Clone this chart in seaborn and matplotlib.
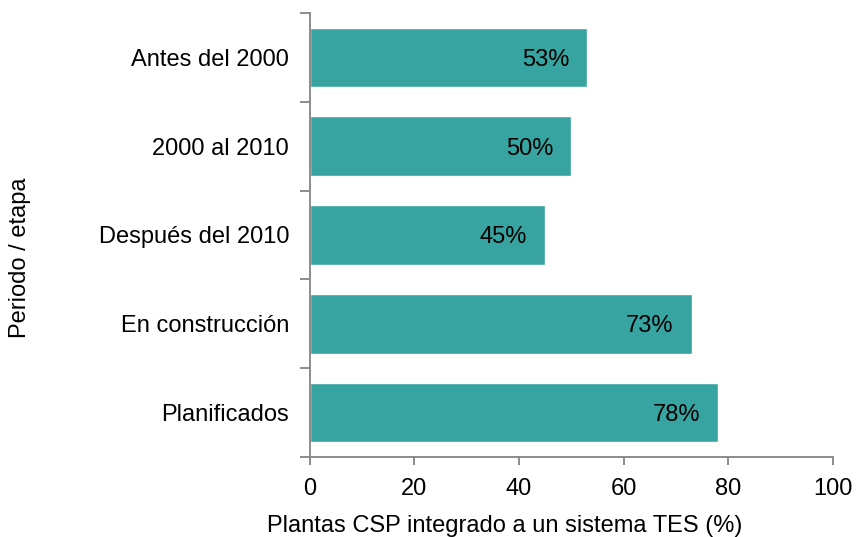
import matplotlib
matplotlib.use('Agg')
import matplotlib.pyplot as plt
import seaborn as sns
from matplotlib.ticker import FixedLocator

# data
periods = ['Antes del 2000', '2000 al 2010', 'Después del 2010',
           'En construcción', 'Planificados']
share = [53, 50, 45, 73, 78]

sns.set_style('white')
plt.rcParams['font.family'] = ['Liberation Sans', 'DejaVu Sans']
plt.rcParams['text.color'] = 'black'
plt.rcParams['axes.labelcolor'] = 'black'
plt.rcParams['xtick.color'] = 'black'
plt.rcParams['ytick.color'] = 'black'

fig = plt.figure(figsize=(8.56, 5.37), dpi=100)
ax = fig.add_axes([0.362, 0.149, 0.611, 0.827])

sns.barplot(x=share, y=periods, orient='h', color='#37A4A2',
            saturation=1, width=0.67, ax=ax)

labels = ax.bar_label(ax.containers[0], labels=[f'{v}%' for v in share],
                      padding=-13, fontsize=17, color='black')
for t in labels:
    t.set_ha('right')
    t.set_va('center_baseline')

ax.set_xlim(0, 100)
ax.set_ylim(len(periods) - 0.5, -0.5)
ax.set_xticks([0, 20, 40, 60, 80, 100])
ax.yaxis.set_minor_locator(FixedLocator([i - 0.5 for i in range(len(periods) + 1)]))

grey = '#8c8c8c'
for side in ['top', 'right']:
    ax.spines[side].set_visible(False)
for side in ['left', 'bottom']:
    ax.spines[side].set_color(grey)
    ax.spines[side].set_linewidth(1.4)

ax.tick_params(axis='x', which='major', direction='out', length=6, width=1.4,
               color=grey, labelcolor='black', labelsize=17, pad=9, bottom=True)
ax.tick_params(axis='y', which='major', length=0, labelsize=17, pad=15,
               labelcolor='black')
ax.tick_params(axis='y', which='minor', direction='out', length=7, width=1.4,
               color=grey, left=True)

ax.set_xlabel('Plantas CSP integrado a un sistema TES (%)', fontsize=17)
ax.set_ylabel('Periodo / etapa', fontsize=17)
ax.xaxis.set_label_coords(0.373, -0.13)
ax.yaxis.set_label_coords(-0.533, 0.448)

fig.savefig('out.png', dpi=100)
